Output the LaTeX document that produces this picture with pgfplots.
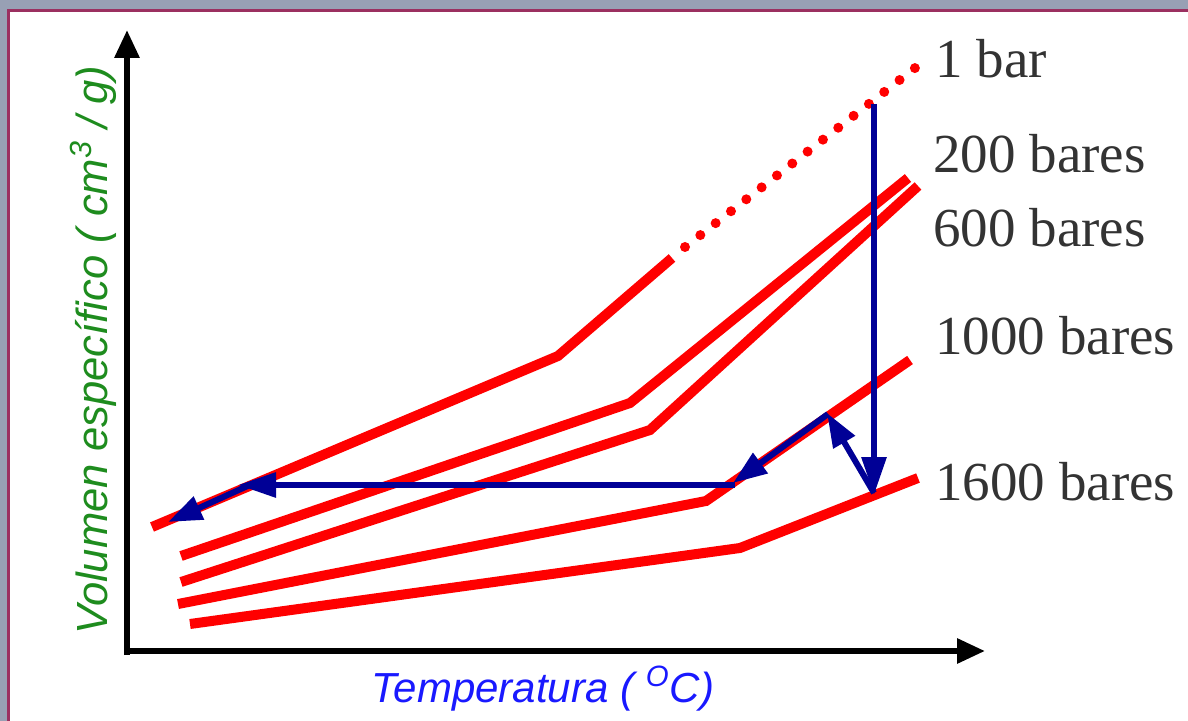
\documentclass[border=0pt]{standalone}
\usepackage{fontspec}
\setmainfont{Liberation Serif}
\newfontfamily\arial{Liberation Sans}
\usepackage{pgfplots}
\pgfplotsset{compat=1.18}
\usetikzlibrary{arrows.meta}
\definecolor{lnred}{RGB}{255,0,0}
\definecolor{navy}{RGB}{0,0,150}
\definecolor{lblgreen}{RGB}{30,140,30}
\definecolor{lblblue}{RGB}{25,25,255}
\definecolor{frgrey}{RGB}{152,160,180}
\definecolor{frmaroon}{RGB}{155,48,96}
\definecolor{txt}{RGB}{51,51,51}
\begin{document}
\begin{tikzpicture}
\begin{axis}[
  width=594pt, height=360.5pt, scale only axis,
  xmin=0, xmax=1188, ymin=0, ymax=721, y dir=reverse,
  axis lines=none, clip=false,
]
% background and frame
\fill[white] (axis cs:-2,-2) rectangle (axis cs:1190,723);
\fill[frgrey] (axis cs:-2,-2) rectangle (axis cs:1190,9);
\fill[frgrey] (axis cs:-2,-2) rectangle (axis cs:7,723);
\fill[frmaroon] (axis cs:7,9) rectangle (axis cs:1190,12);
\fill[frmaroon] (axis cs:7,9) rectangle (axis cs:10,723);
\coordinate (bl) at (axis cs:0,721);
\coordinate (tr) at (axis cs:1188,0);

% axes with arrows
\addplot[black, line width=3pt, -{Triangle[length=14pt,width=12pt]}] coordinates {(127,655) (127,30)};
\addplot[black, line width=3pt, -{Triangle[length=14pt,width=12pt]}] coordinates {(124,651) (985,651)};

% isobars
\addplot[lnred, line width=5pt] coordinates {(152,527) (558,356) (672,258)};
\addplot[lnred, line width=5pt, line cap=round, dash pattern=on 0pt off 9.71pt] coordinates {(685,247) (915,68)};
\addplot[lnred, line width=5pt] coordinates {(181,556) (630,403) (908,178)};
\addplot[lnred, line width=5pt] coordinates {(181,582) (650,430) (918,186)};
\addplot[lnred, line width=5pt] coordinates {(178,604) (706,501) (910,360)};
\addplot[lnred, line width=5pt] coordinates {(190,624) (740,548) (918,478)};

% process path
\addplot[navy, line width=3pt, -{Triangle[length=19pt,width=12pt]}] coordinates {(874,104) (874,495)};
\addplot[navy, line width=3pt, -{Triangle[length=17pt,width=12pt]}] coordinates {(874,493) (827,413)};
\addplot[navy, line width=3pt, -{Triangle[length=17pt,width=12pt]}] coordinates {(828,414) (733,483)};
\addplot[navy, line width=3pt, -{Triangle[length=19pt,width=12pt]}] coordinates {(735,485) (238,485)};
\addplot[navy, line width=3pt, -{Triangle[length=17pt,width=12pt]}] coordinates {(252,484) (168,522)};

% labels
\node[txt, anchor=base west, inner sep=0pt, font=\fontsize{27.5}{30}\selectfont] at (axis cs:935,78) {1 bar};
\node[txt, anchor=base west, inner sep=0pt, font=\fontsize{27.5}{30}\selectfont] at (axis cs:933,173) {200 bares};
\node[txt, anchor=base west, inner sep=0pt, font=\fontsize{27.5}{30}\selectfont] at (axis cs:933,247) {600 bares};
\node[txt, anchor=base west, inner sep=0pt, font=\fontsize{27.5}{30}\selectfont] at (axis cs:935,355) {1000 bares};
\node[txt, anchor=base west, inner sep=0pt, font=\fontsize{27.5}{30}\selectfont] at (axis cs:935,500) {1600 bares};

\node[lblblue, anchor=base, inner sep=0pt, font=\arial\itshape\fontsize{21}{24}\selectfont] at (axis cs:543,702) {Temperatura ( \textsuperscript{O}C)};
\node[lblgreen, anchor=base, rotate=90, inner sep=0pt, font=\arial\itshape\fontsize{21.8}{24}\selectfont] at (axis cs:107,350) {Volumen específico ( cm\textsuperscript{3} / g)};
\end{axis}
\pgfresetboundingbox
\path[use as bounding box] (bl) rectangle (tr);
\end{tikzpicture}
\end{document}
